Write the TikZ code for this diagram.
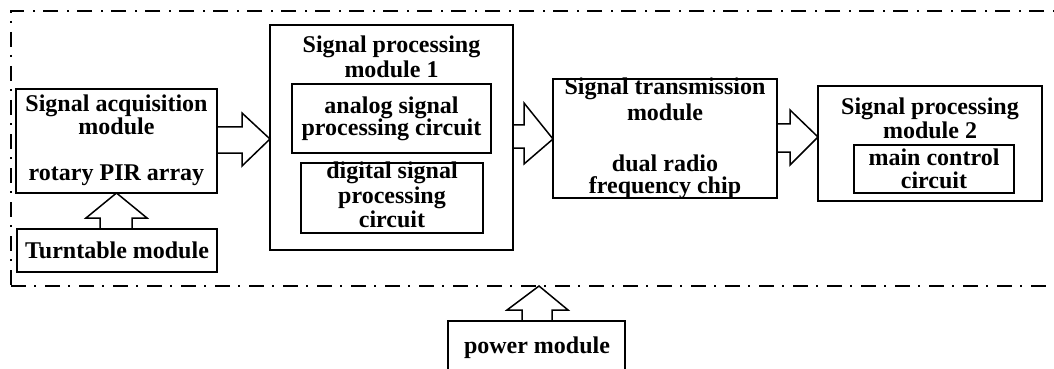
\documentclass[tikz,border=0pt]{standalone}
\usepackage{fontspec}
\setmainfont{Liberation Serif}
\usetikzlibrary{fit}
\begin{document}
\begin{tikzpicture}[x=0.5pt,y=-0.5pt,
  box/.style={draw,line width=1pt,inner sep=0pt,outer sep=0pt},
  frame/.style={draw,line width=1.2pt,inner sep=0pt,outer sep=0pt,
    dash pattern=on 7.5pt off 4pt on 1pt off 4.5pt},
  lbl/.style={font=\bfseries\fontsize{12}{12}\selectfont,inner sep=0pt,anchor=base},
  barrow/.style={draw,line width=0.75pt,line join=miter}]
\useasboundingbox (0,0) rectangle (1054,369);
\clip (0,0) rectangle (1054,369);

% dash-dot enclosure of the sensing unit
\node[frame,fit={(11,11)(1070,286)}] (frame) {};

% module boxes
\node[box,fit={(16,89)(217,193)}] (acq) {};
\node[box,fit={(17,229)(217,272)}] (turn) {};
\node[box,fit={(270,25)(513,250)}] (sp1) {};
\node[box,fit={(292,84)(491,153)}] (ana) {};
\node[box,fit={(301,163)(483,233)}] (dig) {};
\node[box,fit={(553,79)(777,198)}] (trans) {};
\node[box,fit={(818,86)(1042,201)}] (sp2) {};
\node[box,fit={(854,145)(1014,193)}] (mcc) {};
\node[box,fit={(448,321)(625,400)}] (pwr) {};

% labels
\node[lbl] (acq1) at (116.5,112) {Signal acquisition};
\node[lbl] (acq2) at (116.5,134) {module};
\node[lbl] (acq3) at (116.5,180) {rotary PIR array};
\node[lbl] (turnt) at (117,258) {Turntable module};
\node[lbl] (sp1a) at (391.5,53) {Signal processing};
\node[lbl] (sp1b) at (391.5,78) {module 1};
\node[lbl] (ana1) at (391.5,113) {analog signal};
\node[lbl] (ana2) at (391.5,135) {processing circuit};
\node[lbl] (dig1) at (392,178) {digital signal};
\node[lbl] (dig2) at (392,203) {processing};
\node[lbl] (dig3) at (392,227) {circuit};
\node[lbl] (tr1) at (665,95) {Signal transmission};
\node[lbl] (tr2) at (665,120) {module};
\node[lbl] (tr3) at (665,171) {dual radio};
\node[lbl] (tr4) at (665,193) {frequency chip};
\node[lbl] (sp2a) at (930,115) {Signal processing};
\node[lbl] (sp2b) at (930,139) {module 2};
\node[lbl] (mc1) at (934,165) {main control};
\node[lbl] (mc2) at (934,188) {circuit};
\node[lbl] (pw) at (537,353) {power module};

% block arrows
\draw[barrow] (acq.east |- 0,153) -- (242,153) -- (242,166) -- (sp1.west |- 0,139)
  -- (242,113) -- (242,127) -- (acq.east |- 0,127);
\draw[barrow] (sp1.east |- 0,148) -- (524,148) -- (524,164) -- (trans.west |- 0,139)
  -- (524,103) -- (524,125) -- (sp1.east |- 0,125);
\draw[barrow] (trans.east |- 0,152) -- (790,152) -- (790,165) -- (sp2.west |- 0,137)
  -- (790,110) -- (790,124) -- (trans.east |- 0,124);
\draw[barrow] (100,0 |- turn.north) -- (100,218) -- (86,218) -- (116.5,0 |- acq.south)
  -- (147,218) -- (132,218) -- (132,0 |- turn.north);
\draw[barrow] (522,0 |- pwr.north) -- (522,310) -- (507,310) -- (539,0 |- frame.south)
  -- (568,310) -- (552,310) -- (552,0 |- pwr.north);
\end{tikzpicture}
\end{document}
